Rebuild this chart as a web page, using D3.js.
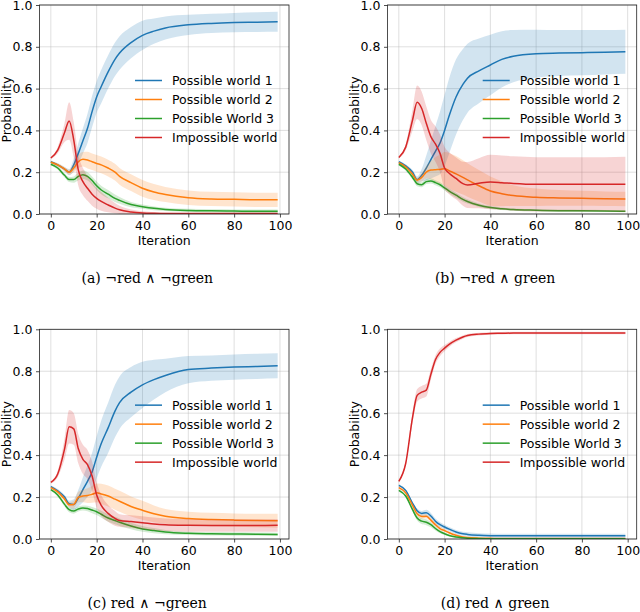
<!DOCTYPE html>
<html>
<head>
<meta charset="utf-8">
<script src="https://cdn.jsdelivr.net/npm/d3@7"></script>
<style>
  body { margin: 0; background: #fff; }
  svg { display: block; }
  .tick text { font-family: "DejaVu Sans", sans-serif; font-size: 12.5px; fill: #000; }
</style>
</head>
<body>
<svg id="chart"></svg>
<script>
const width = 640;
const height = 612;

// shared iteration sample points
const iterations = [0, 3, 6, 8, 10, 12, 14, 16, 18, 20, 22, 25, 28, 30, 35, 40, 45, 50, 60, 70, 80, 90, 99];

const seriesNames = ["Possible world 1", "Possible world 2", "Possible World 3", "Impossible world"];
const xTicks = [0, 20, 40, 60, 80, 100];
const yTicks = [0, 0.2, 0.4, 0.6, 0.8, 1.0];
const captions = ["(a) ¬red ∧ ¬green", "(b) ¬red ∧ green", "(c) red ∧ ¬green", "(d) red ∧ green"];

// (a) ¬red ∧ ¬green
const a_pw1 = [0.25, 0.235, 0.215, 0.2, 0.235, 0.29, 0.35, 0.41, 0.49, 0.56, 0.61, 0.68, 0.74, 0.77, 0.82, 0.855, 0.875, 0.89, 0.905, 0.912, 0.916, 0.918, 0.92];
const a_pw1_sd = [0.005, 0.008, 0.01, 0.015, 0.03, 0.05, 0.06, 0.07, 0.075, 0.075, 0.08, 0.08, 0.08, 0.08, 0.075, 0.07, 0.06, 0.055, 0.048, 0.046, 0.046, 0.047, 0.048];
const a_pw2 = [0.248, 0.235, 0.215, 0.2, 0.22, 0.25, 0.262, 0.258, 0.25, 0.242, 0.235, 0.22, 0.2, 0.18, 0.15, 0.123, 0.105, 0.093, 0.078, 0.072, 0.07, 0.068, 0.068];
const a_pw2_sd = [0.005, 0.008, 0.01, 0.012, 0.02, 0.03, 0.035, 0.04, 0.04, 0.04, 0.04, 0.04, 0.04, 0.04, 0.04, 0.04, 0.038, 0.036, 0.035, 0.034, 0.034, 0.034, 0.034];
const a_pw3 = [0.238, 0.22, 0.185, 0.165, 0.165, 0.18, 0.188, 0.18, 0.16, 0.135, 0.115, 0.095, 0.075, 0.065, 0.045, 0.035, 0.027, 0.022, 0.017, 0.015, 0.014, 0.013, 0.013];
const a_pw3_sd = [0.005, 0.008, 0.01, 0.012, 0.015, 0.018, 0.02, 0.02, 0.02, 0.02, 0.02, 0.02, 0.018, 0.016, 0.013, 0.01, 0.009, 0.008, 0.008, 0.008, 0.008, 0.008, 0.008];
const a_imp = [0.268, 0.306, 0.39, 0.445, 0.354, 0.21, 0.155, 0.123, 0.095, 0.075, 0.06, 0.043, 0.028, 0.02, 0.01, 0.005, 0.003, 0.002, 0.002, 0.002, 0.002, 0.002, 0.002];
const a_imp_sd = [0.005, 0.015, 0.045, 0.09, 0.085, 0.075, 0.065, 0.06, 0.055, 0.05, 0.045, 0.035, 0.025, 0.02, 0.012, 0.008, 0.005, 0.004, 0.003, 0.003, 0.003, 0.003, 0.003];

// (b) ¬red ∧ green
const b_pw1 = [0.25, 0.23, 0.2, 0.165, 0.185, 0.22, 0.26, 0.3, 0.34, 0.4, 0.47, 0.56, 0.62, 0.65, 0.685, 0.713, 0.74, 0.755, 0.767, 0.77, 0.772, 0.774, 0.776];
const b_pw1_sd = [0.005, 0.008, 0.01, 0.015, 0.03, 0.06, 0.09, 0.12, 0.15, 0.17, 0.18, 0.18, 0.17, 0.165, 0.155, 0.145, 0.135, 0.125, 0.115, 0.11, 0.108, 0.106, 0.105];
const b_pw2 = [0.245, 0.225, 0.19, 0.162, 0.175, 0.2, 0.21, 0.212, 0.213, 0.217, 0.207, 0.192, 0.175, 0.163, 0.135, 0.11, 0.097, 0.088, 0.08, 0.077, 0.075, 0.073, 0.072];
const b_pw2_sd = [0.005, 0.008, 0.01, 0.012, 0.02, 0.03, 0.045, 0.06, 0.07, 0.08, 0.085, 0.085, 0.082, 0.08, 0.075, 0.07, 0.06, 0.05, 0.042, 0.038, 0.036, 0.035, 0.035];
const b_pw3 = [0.238, 0.215, 0.175, 0.145, 0.14, 0.155, 0.158, 0.15, 0.14, 0.125, 0.11, 0.09, 0.07, 0.06, 0.042, 0.031, 0.025, 0.021, 0.018, 0.016, 0.015, 0.014, 0.013];
const b_pw3_sd = [0.005, 0.008, 0.01, 0.012, 0.012, 0.012, 0.012, 0.012, 0.012, 0.012, 0.012, 0.012, 0.011, 0.01, 0.008, 0.007, 0.006, 0.005, 0.005, 0.005, 0.005, 0.005, 0.005];
const b_imp = [0.27, 0.32, 0.45, 0.535, 0.505, 0.434, 0.37, 0.335, 0.29, 0.22, 0.195, 0.17, 0.145, 0.139, 0.147, 0.153, 0.15, 0.146, 0.142, 0.142, 0.142, 0.142, 0.142];
const b_imp_sd = [0.005, 0.015, 0.05, 0.08, 0.08, 0.08, 0.08, 0.085, 0.09, 0.1, 0.1, 0.1, 0.105, 0.11, 0.12, 0.13, 0.13, 0.13, 0.13, 0.13, 0.13, 0.13, 0.132];

// (c) red ∧ ¬green
const c_pw1 = [0.25, 0.23, 0.2, 0.168, 0.165, 0.195, 0.235, 0.275, 0.32, 0.39, 0.455, 0.53, 0.61, 0.65, 0.7, 0.735, 0.76, 0.78, 0.808, 0.815, 0.82, 0.823, 0.826];
const c_pw1_sd = [0.005, 0.008, 0.01, 0.015, 0.025, 0.04, 0.06, 0.075, 0.09, 0.1, 0.11, 0.12, 0.125, 0.125, 0.12, 0.11, 0.095, 0.08, 0.065, 0.06, 0.06, 0.06, 0.06];
const c_pw2 = [0.245, 0.225, 0.19, 0.163, 0.165, 0.2, 0.205, 0.207, 0.213, 0.22, 0.215, 0.205, 0.19, 0.18, 0.155, 0.137, 0.12, 0.108, 0.098, 0.093, 0.09, 0.088, 0.087];
const c_pw2_sd = [0.005, 0.008, 0.01, 0.012, 0.018, 0.025, 0.03, 0.035, 0.04, 0.045, 0.048, 0.05, 0.05, 0.05, 0.048, 0.045, 0.04, 0.035, 0.032, 0.032, 0.032, 0.032, 0.033];
const c_pw3 = [0.235, 0.21, 0.165, 0.14, 0.133, 0.143, 0.148, 0.145, 0.138, 0.13, 0.118, 0.1, 0.088, 0.08, 0.062, 0.048, 0.04, 0.033, 0.027, 0.025, 0.024, 0.023, 0.022];
const c_pw3_sd = [0.005, 0.008, 0.01, 0.012, 0.012, 0.012, 0.012, 0.013, 0.015, 0.016, 0.017, 0.018, 0.018, 0.018, 0.016, 0.014, 0.012, 0.01, 0.008, 0.008, 0.008, 0.008, 0.008];
const c_imp = [0.27, 0.31, 0.43, 0.535, 0.525, 0.43, 0.38, 0.355, 0.3, 0.21, 0.16, 0.122, 0.098, 0.088, 0.083, 0.078, 0.072, 0.068, 0.065, 0.064, 0.064, 0.064, 0.065];
const c_imp_sd = [0.005, 0.015, 0.05, 0.08, 0.075, 0.07, 0.07, 0.07, 0.07, 0.06, 0.05, 0.04, 0.035, 0.03, 0.03, 0.03, 0.03, 0.03, 0.03, 0.03, 0.03, 0.03, 0.03];

// (d) red ∧ green
const d_pw1 = [0.256, 0.232, 0.17, 0.135, 0.122, 0.125, 0.11, 0.085, 0.068, 0.057, 0.047, 0.033, 0.025, 0.022, 0.018, 0.016, 0.015, 0.015, 0.015, 0.015, 0.015, 0.015, 0.015];
const d_pw1_sd = [0.005, 0.006, 0.008, 0.01, 0.012, 0.014, 0.014, 0.013, 0.012, 0.011, 0.01, 0.01, 0.01, 0.01, 0.01, 0.01, 0.01, 0.01, 0.01, 0.01, 0.01, 0.01, 0.01];
const d_pw2 = [0.245, 0.22, 0.16, 0.12, 0.107, 0.108, 0.09, 0.068, 0.05, 0.04, 0.03, 0.018, 0.01, 0.007, 0.004, 0.003, 0.002, 0.002, 0.002, 0.002, 0.002, 0.002, 0.002];
const d_pw2_sd = [0.005, 0.006, 0.008, 0.01, 0.01, 0.01, 0.01, 0.01, 0.008, 0.007, 0.006, 0.005, 0.004, 0.003, 0.002, 0.002, 0.002, 0.002, 0.002, 0.002, 0.002, 0.002, 0.002];
const d_pw3 = [0.232, 0.205, 0.14, 0.1, 0.085, 0.08, 0.068, 0.05, 0.035, 0.025, 0.017, 0.01, 0.006, 0.004, 0.002, 0.001, 0.001, 0.001, 0.001, 0.001, 0.001, 0.001, 0.001];
const d_pw3_sd = [0.005, 0.006, 0.01, 0.012, 0.014, 0.014, 0.012, 0.01, 0.008, 0.006, 0.005, 0.004, 0.003, 0.002, 0.001, 0.001, 0.001, 0.001, 0.001, 0.001, 0.001, 0.001, 0.001];
const d_imp = [0.275, 0.36, 0.58, 0.685, 0.7, 0.71, 0.785, 0.855, 0.89, 0.91, 0.928, 0.948, 0.963, 0.97, 0.977, 0.98, 0.981, 0.982, 0.982, 0.982, 0.982, 0.982, 0.982];
const d_imp_sd = [0.005, 0.01, 0.025, 0.03, 0.03, 0.03, 0.025, 0.02, 0.018, 0.015, 0.012, 0.01, 0.008, 0.007, 0.006, 0.006, 0.006, 0.006, 0.006, 0.006, 0.006, 0.006, 0.006];

const colors = ["#1f77b4", "#ff7f0e", "#2ca02c", "#d62728"];

const panels = [
  { box: [39.5, 5, 289, 214], series: [[a_pw1, a_pw1_sd], [a_pw2, a_pw2_sd], [a_pw3, a_pw3_sd], [a_imp, a_imp_sd]] },
  { box: [387.5, 5, 636.7, 214], series: [[b_pw1, b_pw1_sd], [b_pw2, b_pw2_sd], [b_pw3, b_pw3_sd], [b_imp, b_imp_sd]] },
  { box: [39.5, 329.3, 289, 539], series: [[c_pw1, c_pw1_sd], [c_pw2, c_pw2_sd], [c_pw3, c_pw3_sd], [c_imp, c_imp_sd]] },
  { box: [387.5, 329.3, 636.7, 539], series: [[d_pw1, d_pw1_sd], [d_pw2, d_pw2_sd], [d_pw3, d_pw3_sd], [d_imp, d_imp_sd]] },
];

const svg = d3.select("#chart").attr("width", width).attr("height", height);

const drawPanel = (panel, i) => {
  const [left, top, right, bottom] = panel.box;
  const xScale = d3.scaleLinear().domain([-4.95, 103.95]).range([left, right]);
  const yScale = d3.scaleLinear().domain([0, 1]).range([bottom, top]);
  const g = svg.append("g");

  const clipId = "clip" + i;
  svg.append("clipPath").attr("id", clipId)
    .append("rect").attr("x", left).attr("y", top)
    .attr("width", right - left).attr("height", bottom - top);

  // grid
  g.append("g").selectAll("line").data(xTicks).join("line")
    .attr("x1", (d) => xScale(d)).attr("x2", (d) => xScale(d))
    .attr("y1", top).attr("y2", bottom)
    .attr("stroke", "#b0b0b0").attr("stroke-opacity", 0.5).attr("stroke-width", 0.8);
  g.append("g").selectAll("line").data(yTicks).join("line")
    .attr("x1", left).attr("x2", right)
    .attr("y1", (d) => yScale(d)).attr("y2", (d) => yScale(d))
    .attr("stroke", "#b0b0b0").attr("stroke-opacity", 0.5).attr("stroke-width", 0.8);

  const plot = g.append("g").attr("clip-path", "url(#" + clipId + ")");

  const area = d3.area()
    .x((d) => xScale(d.x))
    .y0((d) => yScale(d.m - d.s))
    .y1((d) => yScale(d.m + d.s))
    .curve(d3.curveMonotoneX);
  const line = d3.line()
    .x((d) => xScale(d.x))
    .y((d) => yScale(d.m))
    .curve(d3.curveMonotoneX);

  panel.series.forEach(([mean, sd], k) => {
    const pts = iterations.map((x, j) => ({ x: x, m: mean[j], s: sd[j] }));
    plot.append("path").datum(pts).attr("d", area)
      .attr("fill", colors[k]).attr("fill-opacity", 0.2);
    plot.append("path").datum(pts).attr("d", line)
      .attr("fill", "none").attr("stroke", colors[k]).attr("stroke-width", 1.5);
  });

  // axes
  const xAxis = d3.axisBottom(xScale).tickValues(xTicks).tickSize(3.5).tickPadding(3.5).tickFormat(d3.format("d"));
  const yAxis = d3.axisLeft(yScale).tickValues(yTicks).tickSize(3.5).tickPadding(3.5).tickFormat(d3.format(".1f"));
  const gx = g.append("g").attr("transform", "translate(0," + bottom + ")").call(xAxis);
  const gy = g.append("g").attr("transform", "translate(" + left + ",0)").call(yAxis);
  [gx, gy].forEach((a) => {
    a.select(".domain").remove();
    a.selectAll(".tick line").attr("stroke", "#222").attr("stroke-width", 0.8);
  });

  g.append("rect").attr("x", left).attr("y", top)
    .attr("width", right - left).attr("height", bottom - top)
    .attr("fill", "none").attr("stroke", "#222").attr("stroke-width", 0.8);

  // axis labels
  g.append("text").attr("x", (left + right) / 2).attr("y", bottom + 31)
    .attr("text-anchor", "middle")
    .style("font-family", "DejaVu Sans, sans-serif").style("font-size", "12.5px")
    .text("Iteration");
  g.append("text")
    .attr("transform", "translate(" + (left - 29) + "," + (top + bottom) / 2 + ") rotate(-90)")
    .attr("text-anchor", "middle")
    .style("font-family", "DejaVu Sans, sans-serif").style("font-size", "12.5px")
    .text("Probability");

  // legend, centre right, no frame
  const midY = (top + bottom) / 2;
  seriesNames.forEach((name, k) => {
    const cy = midY - 29 + k * 19;
    g.append("line").attr("x1", right - 154).attr("x2", right - 127)
      .attr("y1", cy).attr("y2", cy)
      .attr("stroke", colors[k]).attr("stroke-width", 1.5);
    g.append("text").attr("x", right - 117).attr("y", cy + 4.5)
      .style("font-family", "DejaVu Sans, sans-serif").style("font-size", "12.5px")
      .text(name);
  });

  // caption
  g.append("text").attr("x", (left + right) / 2 - 17).attr("y", bottom + 69)
    .attr("text-anchor", "middle")
    .style("font-family", "DejaVu Serif, serif").style("font-size", "14px")
    .text(captions[i]);
};

panels.forEach(drawPanel);
</script>
</body>
</html>
